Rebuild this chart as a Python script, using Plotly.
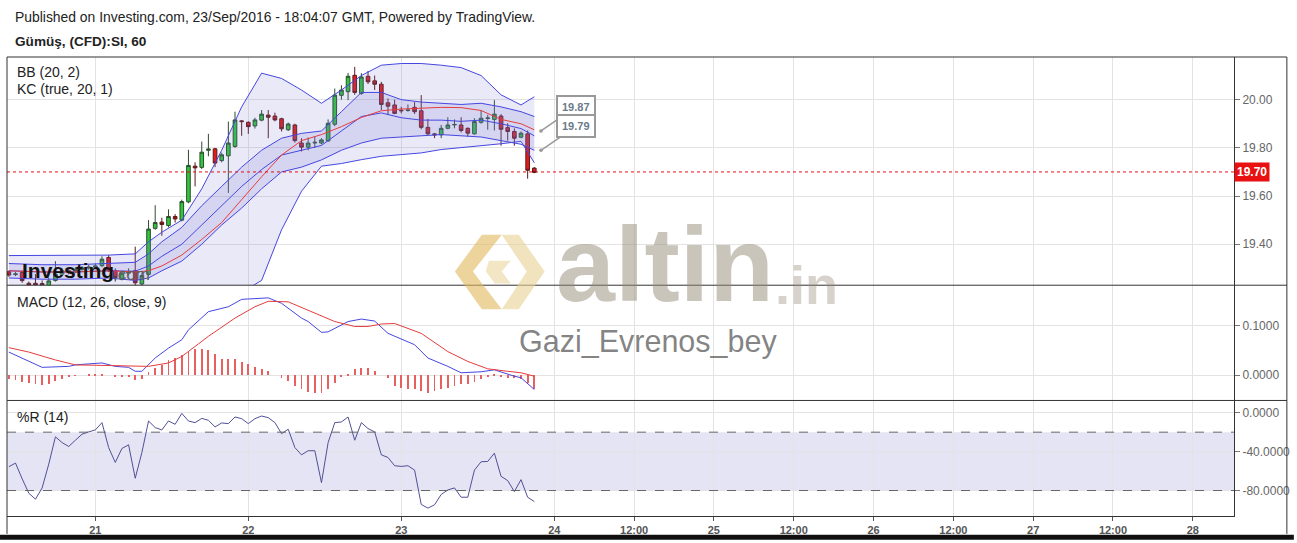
import plotly.graph_objects as go
from plotly.subplots import make_subplots

# ---------------- data ----------------
bar_idx = list(range(-13, 67))  # hourly bars, index 0 = 21 Sep 00:00
opens = [19.286, 19.274, 19.283, 19.238, 19.238, 19.237, 19.229, 19.250, 19.276, 19.290,
         19.285, 19.295, 19.302, 19.305, 19.311, 19.345, 19.290, 19.255, 19.280, 19.290,
         19.235, 19.275, 19.466, 19.492, 19.478, 19.515, 19.500, 19.576, 19.724, 19.719,
         19.790, 19.796, 19.747, 19.767, 19.806, 19.912, 19.906, 19.891, 19.915, 19.936,
         19.932, 19.921, 19.875, 19.895, 19.820, 19.803, 19.820, 19.820, 19.829, 19.898,
         20.018, 20.033, 20.101, 20.026, 20.097, 20.078, 20.064, 19.987, 19.978, 19.956,
         19.955, 19.968, 19.954, 19.885, 19.858, 19.854, 19.881, 19.895, 19.895, 19.881,
         19.858, 19.906, 19.922, 19.918, 19.932, 19.884, 19.868, 19.844, 19.858, 19.716]
highs = [19.290, 19.285, 19.290, 19.245, 19.276, 19.250, 19.260, 19.330, 19.300, 19.300,
         19.305, 19.310, 19.315, 19.320, 19.350, 19.355, 19.300, 19.290, 19.300, 19.390,
         19.280, 19.500, 19.562, 19.510, 19.545, 19.525, 19.585, 19.792, 19.740, 19.826,
         19.858, 19.800, 19.780, 19.909, 19.950, 19.915, 19.910, 19.925, 19.957, 19.957,
         19.946, 19.925, 19.905, 19.900, 19.840, 19.843, 19.847, 19.840, 19.918, 20.046,
         20.060, 20.111, 20.136, 20.110, 20.119, 20.100, 20.074, 20.005, 20.000, 19.970,
         19.980, 19.990, 20.019, 19.920, 19.862, 19.895, 19.927, 19.918, 19.927, 19.885,
         19.923, 19.957, 19.937, 19.998, 19.940, 19.902, 19.881, 19.868, 19.872, 19.720]
lows = [19.265, 19.268, 19.240, 19.220, 19.220, 19.220, 19.220, 19.245, 19.270, 19.275,
        19.280, 19.290, 19.295, 19.300, 19.305, 19.285, 19.245, 19.250, 19.270, 19.225,
        19.225, 19.270, 19.460, 19.435, 19.470, 19.490, 19.495, 19.570, 19.640, 19.712,
        19.765, 19.720, 19.740, 19.613, 19.800, 19.850, 19.858, 19.880, 19.910, 19.840,
        19.910, 19.868, 19.870, 19.822, 19.785, 19.790, 19.800, 19.815, 19.825, 19.890,
        20.000, 19.998, 20.020, 20.020, 20.065, 20.040, 19.957, 19.936, 19.940, 19.943,
        19.950, 19.940, 19.877, 19.854, 19.840, 19.840, 19.877, 19.881, 19.864, 19.847,
        19.855, 19.900, 19.875, 19.872, 19.809, 19.830, 19.809, 19.840, 19.672, 19.695]
closes = [19.272, 19.277, 19.249, 19.230, 19.231, 19.230, 19.248, 19.276, 19.290, 19.285,
          19.295, 19.302, 19.305, 19.310, 19.338, 19.290, 19.262, 19.280, 19.285, 19.240,
          19.270, 19.463, 19.490, 19.482, 19.515, 19.505, 19.577, 19.727, 19.717, 19.782,
          19.795, 19.737, 19.771, 19.820, 19.916, 19.909, 19.888, 19.916, 19.940, 19.927,
          19.916, 19.879, 19.899, 19.830, 19.803, 19.820, 19.823, 19.833, 19.902, 20.019,
          20.040, 20.097, 20.030, 20.094, 20.074, 20.064, 19.980, 19.973, 19.943, 19.954,
          19.957, 19.950, 19.885, 19.858, 19.854, 19.881, 19.895, 19.897, 19.872, 19.861,
          19.909, 19.923, 19.924, 19.940, 19.877, 19.868, 19.840, 19.861, 19.707, 19.698]

band_idx = [-13, -8, -3, 2, 6, 8, 10, 13, 16, 19, 22, 25, 28, 31, 34, 37, 40, 43, 46, 49, 52, 55, 58, 61, 64, 66]
bb_upper = [19.353, 19.353, 19.353, 19.355, 19.360, 19.410, 19.450, 19.500, 19.630, 19.790, 19.970, 20.110, 20.088,
            20.040, 19.985, 20.040, 20.100, 20.143, 20.150, 20.150, 20.143, 20.133, 20.100, 20.020, 19.978, 20.012]
bb_basis = [19.290, 19.285, 19.285, 19.290, 19.285, 19.290, 19.310, 19.355, 19.420, 19.490, 19.585, 19.680, 19.770,
            19.830, 19.855, 19.888, 19.926, 19.954, 19.961, 19.965, 19.968, 19.967, 19.955, 19.918, 19.900, 19.875]
bb_lower = [19.227, 19.217, 19.217, 19.225, 19.210, 19.170, 19.170, 19.210, 19.210, 19.190, 19.200, 19.250, 19.460,
            19.620, 19.724, 19.735, 19.751, 19.765, 19.772, 19.779, 19.793, 19.800, 19.809, 19.817, 19.827, 19.738]
kc_upper = [19.320, 19.315, 19.315, 19.320, 19.325, 19.360, 19.410, 19.470, 19.560, 19.640, 19.720, 19.790, 19.840,
            19.860, 19.870, 19.950, 20.030, 20.030, 20.000, 19.990, 19.985, 19.980, 19.985, 19.970, 19.950, 19.930]
kc_basis = [19.290, 19.285, 19.285, 19.290, 19.288, 19.310, 19.350, 19.400, 19.480, 19.560, 19.640, 19.710, 19.770,
            19.790, 19.810, 19.870, 19.930, 19.945, 19.925, 19.915, 19.915, 19.910, 19.915, 19.900, 19.880, 19.850]
kc_lower = [19.260, 19.255, 19.255, 19.260, 19.250, 19.260, 19.290, 19.330, 19.400, 19.480, 19.550, 19.630, 19.700,
            19.720, 19.750, 19.790, 19.820, 19.840, 19.845, 19.850, 19.855, 19.850, 19.845, 19.830, 19.815, 19.790]

macd_idx = [-13, -11, -8, -4, -3, 1, 3, 5, 6, 7, 9, 11, 13, 14, 17, 20, 22, 26, 28, 31, 32, 34, 35, 38, 40, 42,
            44, 48, 50, 53, 55, 58, 60, 63, 64, 66]
macd_line = [0.047, 0.035, 0.016, 0.018, 0.021, 0.025, 0.018, 0.016, 0.008, 0.008, 0.035, 0.055, 0.072, 0.092,
             0.129, 0.139, 0.154, 0.157, 0.146, 0.116, 0.109, 0.087, 0.088, 0.109, 0.114, 0.110, 0.085, 0.062,
             0.035, 0.018, 0.005, 0.007, 0.011, -0.002, -0.005, -0.029]
signal_idx = [-13, -10, -6, -3, 1, 5, 8, 11, 13, 17, 21, 24, 26, 29, 33, 36, 39, 41, 43, 45, 49, 53, 56, 59, 62, 64, 66]
signal_line = [0.056, 0.047, 0.031, 0.021, 0.020, 0.019, 0.018, 0.025, 0.038, 0.079, 0.116, 0.139, 0.150, 0.149,
               0.126, 0.109, 0.099, 0.099, 0.104, 0.105, 0.085, 0.048, 0.028, 0.013, 0.008, 0.005, -0.002]
macd_hist = [-0.0087, -0.0108, -0.0134, -0.0155, -0.0175, -0.0200, -0.0190, -0.0120, -0.0090, -0.0050,
             -0.0010, 0.0000, 0.0010, 0.0020, 0.0020, 0.0000, -0.0030, -0.0040, -0.0050, -0.0110,
             -0.0090, 0.0060, 0.0150, 0.0200, 0.0300, 0.0340, 0.0400, 0.0470, 0.0520, 0.0520,
             0.0500, 0.0430, 0.0320, 0.0320, 0.0320, 0.0270, 0.0230, 0.0160, 0.0130, 0.0090,
             0.0000, -0.0054, -0.0121, -0.0222, -0.0289, -0.0336, -0.0356, -0.0356, -0.0276, -0.0155,
             -0.0040, 0.0020, 0.0114, 0.0148, 0.0134, 0.0080, 0.0000, -0.0054, -0.0220, -0.0255,
             -0.0290, -0.0290, -0.0320, -0.0356, -0.0320, -0.0290, -0.0255, -0.0220, -0.0188, -0.0175,
             -0.0134, -0.0087, -0.0040, 0.0010, -0.0020, -0.0054, -0.0054, -0.0087, -0.0155, -0.0289]
willr = [-55.5, -51.8, -68.0, -82.8, -88.9, -77.3, -52.8, -24.8, -30.7, -34.7,
         -28.3, -22.1, -19.7, -17.7, -10.2, -35.8, -51.1, -36.8, -33.0, -67.4,
         -40.9, -8.5, -15.3, -17.7, -8.5, -11.9, -0.7, -8.5, -10.2, -5.8,
         -7.8, -14.6, -10.5, -11.2, -4.4, -6.1, -11.2, -6.1, -3.4, -5.1,
         -10.2, -21.5, -17.0, -35.8, -43.3, -39.1, -39.1, -71.9, -30.7, -10.2,
         -9.5, -4.4, -28.3, -10.2, -16.3, -19.7, -43.3, -46.0, -54.5, -55.2,
         -54.5, -59.0, -94.3, -98.1, -94.7, -84.1, -79.4, -77.3, -86.9, -86.9,
         -59.0, -50.4, -50.1, -41.6, -65.4, -69.8, -81.1, -68.8, -86.9, -91.3]

tick_idx = [0, 23, 46, 69, 81, 93, 105, 117, 129, 141, 153, 165]
tick_text = ["21", "22", "23", "24", "12:00", "25", "12:00", "26", "12:00", "27", "12:00", "28"]
price_ticks = [19.4, 19.6, 19.8, 20.0]
last_price = 19.70
line_values = [19.87, 19.79]

# ---------------- layout helpers ----------------
W, H = 1297, 543
L, R, T, B = 7, 60, 57, 24
PW, PH = W - L - R, H - T - B


def px(x, y):
    return (x - L) / PW, (H - B - y) / PH


FONT = "Liberation Sans, Arial, sans-serif"
BLUE = "rgb(70,70,225)"
RED = "rgb(230,60,60)"

fig = make_subplots(rows=3, cols=1, shared_xaxes=True, vertical_spacing=0)

# Bollinger / Keltner bands
fig.add_trace(go.Scatter(x=band_idx, y=bb_lower, mode="lines", line=dict(color=BLUE, width=1),
                         hoverinfo="skip"), row=1, col=1)
fig.add_trace(go.Scatter(x=band_idx, y=bb_upper, mode="lines", line=dict(color=BLUE, width=1),
                         fill="tonexty", fillcolor="rgba(120,120,210,0.16)", hoverinfo="skip"), row=1, col=1)
fig.add_trace(go.Scatter(x=band_idx, y=kc_lower, mode="lines", line=dict(color=BLUE, width=1),
                         hoverinfo="skip"), row=1, col=1)
fig.add_trace(go.Scatter(x=band_idx, y=kc_upper, mode="lines", line=dict(color=BLUE, width=1),
                         fill="tonexty", fillcolor="rgba(120,120,210,0.18)", hoverinfo="skip"), row=1, col=1)
fig.add_trace(go.Scatter(x=band_idx, y=kc_basis, mode="lines", line=dict(color=BLUE, width=1),
                         hoverinfo="skip"), row=1, col=1)
fig.add_trace(go.Scatter(x=band_idx, y=bb_basis, mode="lines", line=dict(color=RED, width=1),
                         hoverinfo="skip"), row=1, col=1)

fig.add_trace(go.Candlestick(
    x=bar_idx, open=opens, high=highs, low=lows, close=closes,
    increasing=dict(fillcolor="#2ec83a", line=dict(color="#2d4d2d", width=1)),
    decreasing=dict(fillcolor="#e31b1b", line=dict(color="#5a1a1a", width=1)),
    whiskerwidth=0, showlegend=False), row=1, col=1)

# MACD
fig.add_trace(go.Bar(x=bar_idx, y=macd_hist, width=0.13, marker=dict(color="rgb(232,95,95)", line=dict(width=0)),
                     hoverinfo="skip"), row=2, col=1)
fig.add_trace(go.Scatter(x=macd_idx, y=macd_line, mode="lines", line=dict(color=BLUE, width=1)), row=2, col=1)
fig.add_trace(go.Scatter(x=signal_idx, y=signal_line, mode="lines", line=dict(color=RED, width=1)), row=2, col=1)

# Williams %R
fig.add_trace(go.Scatter(x=bar_idx, y=willr, mode="lines", line=dict(color="rgb(80,80,150)", width=1)), row=3, col=1)

fig.update_layout(
    width=W, height=H, autosize=False,
    margin=dict(l=L, r=R, t=T, b=B, pad=0),
    paper_bgcolor="white", plot_bgcolor="white",
    showlegend=False, bargap=0, boxgap=0.22,
    font=dict(family=FONT, size=12, color="#333"),
)

GRID = "#e3e3e3"
fig.update_xaxes(range=[-13.28, 171.2], tickmode="array", tickvals=tick_idx, ticktext=tick_text,
                 showgrid=True, gridcolor=GRID, gridwidth=1, zeroline=False,
                 rangeslider_visible=False, showline=False)
fig.update_xaxes(row=3, col=1, ticks="outside", ticklen=4, tickcolor="#555",
                 tickfont=dict(family=FONT, size=11, color="#555", weight="bold"),
                 showline=True, linecolor="#333", linewidth=1)

yax_common = dict(side="right", showgrid=True, gridcolor=GRID, zeroline=False, ticks="outside",
                  ticklen=5, tickcolor="#777", showline=True, linecolor="#333", linewidth=1,
                  tickfont=dict(family=FONT, size=12, color="#666"), fixedrange=True)
fig.update_yaxes(row=1, col=1, domain=[0.5028, 1.0], range=[19.230, 20.177], tickmode="array",
                 tickvals=price_ticks, ticktext=[f"{v:.2f}" for v in price_ticks], **yax_common)
fig.update_yaxes(row=2, col=1, domain=[0.2517, 0.5028], range=[-0.0512, 0.1827], tickmode="array",
                 tickvals=[0.0, 0.1], ticktext=["0.0000", "0.1000"], **yax_common)
fig.update_yaxes(row=3, col=1, domain=[0.0, 0.2517], range=[-106.2, 12.6], tickmode="array",
                 tickvals=[0, -40, -80], ticktext=["0.0000", "-40.0000", "-80.0000"], **yax_common)

shapes = []
# %R band
shapes.append(dict(type="rect", xref="x3 domain", yref="y3", x0=0, x1=1, y0=-80, y1=-20,
                   fillcolor="rgba(170,170,220,0.32)", line=dict(width=0), layer="below"))
for lv in (-20, -80):
    shapes.append(dict(type="line", xref="x3 domain", yref="y3", x0=0, x1=1, y0=lv, y1=lv,
                       line=dict(color="#666", width=1, dash="dash")))
# last price dotted line
shapes.append(dict(type="line", xref="x domain", yref="y", x0=0, x1=1, y0=last_price, y1=last_price,
                   line=dict(color="#d11", width=1, dash="dot")))


def pline(x0, y0, x1, y1, color="#333", width=1):
    a, b = px(x0, y0)
    c, d = px(x1, y1)
    shapes.append(dict(type="line", xref="paper", yref="paper", x0=a, y0=b, x1=c, y1=d,
                       line=dict(color=color, width=width)))


# frame
pline(7, 57, 1290, 57)
pline(7, 57, 7, 537)
pline(1290, 57, 1290, 537)
pline(7, 286.7, 1290, 286.7)
pline(7, 402.7, 1290, 402.7)
pline(0, 540.5, 1297, 540.5, color="#111", width=5)


def ppath(points, color):
    path = ""
    for k, (x, y) in enumerate(points):
        a, b = px(x, y)
        path += ("M" if k == 0 else "L") + f"{a:.5f},{b:.5f} "
    path += "Z"
    shapes.append(dict(type="path", xref="paper", yref="paper", path=path,
                       fillcolor=color, line=dict(width=0)))


# gold logo (watermark)
ppath([(483, 236), (503, 236), (474, 273), (503, 311), (483, 311), (456, 273)], "rgba(225,185,95,0.62)")
ppath([(503, 236), (520, 236), (546, 273), (520, 311), (503, 311), (528, 273)], "rgba(232,210,150,0.62)")
ppath([(490, 262), (512, 262), (503, 273), (512, 285), (496, 285), (487, 273)], "rgba(232,210,150,0.55)")

annotations = []


def ptext(x, y, text, size=13, color="#222", xanchor="left", yanchor="middle", weight="normal", family=FONT, **kw):
    a, b = px(x, y)
    annotations.append(dict(xref="paper", yref="paper", x=a, y=b, text=text, showarrow=False,
                            xanchor=xanchor, yanchor=yanchor,
                            font=dict(family=family, size=size, color=color, weight=weight), **kw))


ptext(13, 17, "Published on Investing.com, 23/Sep/2016 - 18:04:07 GMT, Powered by TradingView.", size=13.9)
ptext(13, 41, "Gümüş, (CFD):SI, 60", size=13.6, weight="bold")
ptext(15, 72, "BB (20, 2)", size=14)
ptext(15, 89, "KC (true, 20, 1)", size=14)
ptext(15, 304, "MACD (12, 26, close, 9)", size=14)
ptext(15, 419, "%R (14)", size=14)

# watermarks
ptext(20, 272, "<b>Investing</b>", size=21, color="#111")
ptext(111, 276, ".com", size=17, color="#5e5e5e", bgcolor="rgba(255,255,255,0.0)")
ptext(555, 265, "altin", size=106, color="rgba(150,140,120,0.5)", weight="bold")
ptext(775, 286, ".in", size=54, color="rgba(150,140,120,0.38)", weight="bold")
ptext(518, 343, "Gazi_Evrenos_bey", size=30.5, color="rgba(110,110,110,0.85)")

# last price tag on axis
annotations.append(dict(xref="x domain", yref="y", x=1.0, y=last_price, text="<b>19.70</b>", showarrow=False,
                        xanchor="left", yanchor="middle", bgcolor="#e81010", borderpad=2,
                        font=dict(family=FONT, size=12, color="white")))

# value callouts
for v in line_values:
    annotations.append(dict(xref="x", yref="y", x=bar_idx[-1] + 1, y=v, text=f"<b>{v:.2f}</b>",
                            showarrow=True, arrowhead=6, arrowsize=0.6, arrowcolor="#999", arrowwidth=1.5,
                            ax=35, ay=-24, bgcolor="white", bordercolor="#999", borderwidth=2, borderpad=4,
                            font=dict(family=FONT, size=11, color="#6a7a8a")))

fig.update_layout(shapes=shapes, annotations=annotations)
fig.write_html("out.html", config={"displayModeBar": False},
               post_script="document.body.style.margin='0px';document.body.style.overflow='hidden';")
